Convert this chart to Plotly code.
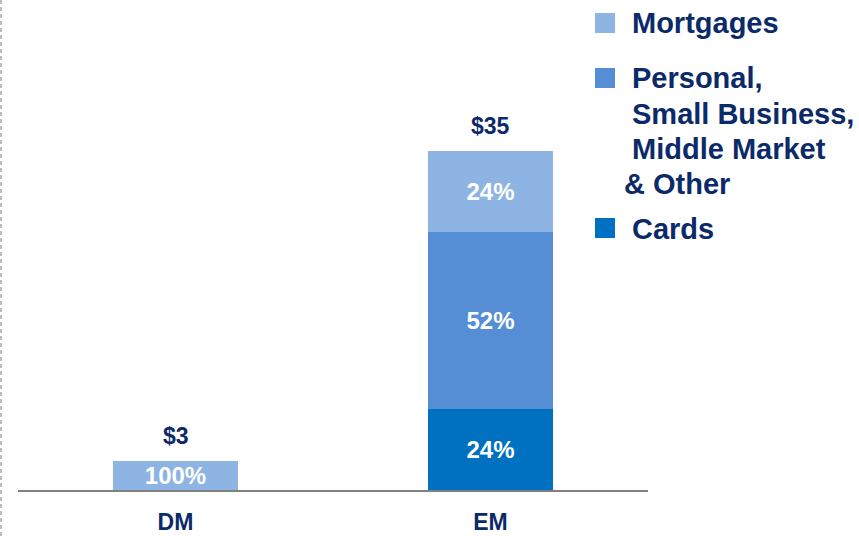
import plotly.graph_objects as go

# ---- data ----
categories = ["DM", "EM"]
series_names = ["Cards", "Personal, Small Business, Middle Market & Other", "Mortgages"]
cards_values = [0, 8.4]
personal_values = [0, 18.2]
mortgages_values = [3, 8.4]
cards_labels = ["", "24%"]
personal_labels = ["", "52%"]
mortgages_labels = ["100%", "24%"]
totals = [3, 35]
total_labels = ["$3", "$35"]
legend_lines_personal = ["Personal,", "Small Business,", "Middle Market", "& Other"]

colors = {"Cards": "#0070C0",
          "Personal, Small Business, Middle Market & Other": "#558ED5",
          "Mortgages": "#8DB4E2"}
navy = "#0B2A69"
FONT = "Liberation Sans, Arial, sans-serif"

W, H = 859, 536
L, R, T, B = 18, 211, 20, 46
PW, PH = W - L - R, H - T - B


def px_x(px):
    return (px - L) / PW


def px_y(py):
    return (H - B - py) / PH


fig = go.Figure()
for name, vals, labs in [(series_names[0], cards_values, cards_labels),
                         (series_names[1], personal_values, personal_labels),
                         (series_names[2], mortgages_values, mortgages_labels)]:
    fig.add_trace(go.Bar(
        x=categories, y=vals, name=name, text=labs,
        marker=dict(color=colors[name], line=dict(width=0)),
        textposition="inside", insidetextanchor="middle", textangle=0,
        constraintext="none",
        textfont=dict(family=FONT, size=24, color="white", weight="bold"),
        hoverinfo="skip",
    ))

annotations = []
for c, t, lab in zip(categories, totals, total_labels):
    annotations.append(dict(x=c, y=t, xref="x", yref="y", text=lab, showarrow=False,
                            yanchor="bottom", yshift=10,
                            font=dict(family=FONT, size=23, color=navy, weight="bold")))

# legend drawn manually
shapes = []
leg_font = dict(family=FONT, size=29, color=navy, weight="bold")
sq = [(13, "Mortgages"), (68, series_names[1]), (218, "Cards")]
for top, name in sq:
    shapes.append(dict(type="rect", xref="paper", yref="paper",
                       x0=px_x(595), x1=px_x(615), y0=px_y(top + 20), y1=px_y(top),
                       fillcolor=colors[name], line=dict(width=0)))
text_items = [("Mortgages", 631, 23)]
ys = [78, 114, 149, 184]
xs = [631, 631, 631, 623]
for line, x0, y0 in zip(legend_lines_personal, xs, ys):
    text_items.append((line, x0, y0))
text_items.append(("Cards", 631, 229))
for txt, x0, y0 in text_items:
    annotations.append(dict(x=px_x(x0), y=px_y(y0), xref="paper", yref="paper", text=txt,
                            showarrow=False, xanchor="left", yanchor="middle",
                            borderpad=0, font=leg_font))

# left dashed separator
shapes.append(dict(type="line", xref="paper", yref="paper",
                   x0=px_x(1), x1=px_x(1), y0=px_y(536), y1=px_y(0),
                   line=dict(color="#A6A6A6", width=1.5, dash="4px,3px")))

fig.update_layout(
    width=W, height=H, margin=dict(l=L, r=R, t=T, b=B, autoexpand=False),
    barmode="stack", bargap=0.604, showlegend=False,
    plot_bgcolor="white", paper_bgcolor="white",
    annotations=annotations, shapes=shapes,
    xaxis=dict(showline=True, linecolor="#808080", linewidth=2, showgrid=False,
               ticks="outside", ticklen=10, tickcolor="rgba(0,0,0,0)",
               tickfont=dict(family=FONT, size=23, color=navy, weight="bold"),
               range=[-0.5, 1.5], fixedrange=True, automargin=False),
    yaxis=dict(visible=False, range=[0, 35 * PH / 339], fixedrange=True, automargin=False),
)

fig.write_html("out.html", config={"displayModeBar": False},
               post_script="document.body.style.margin='0';document.body.style.overflow='hidden';")
